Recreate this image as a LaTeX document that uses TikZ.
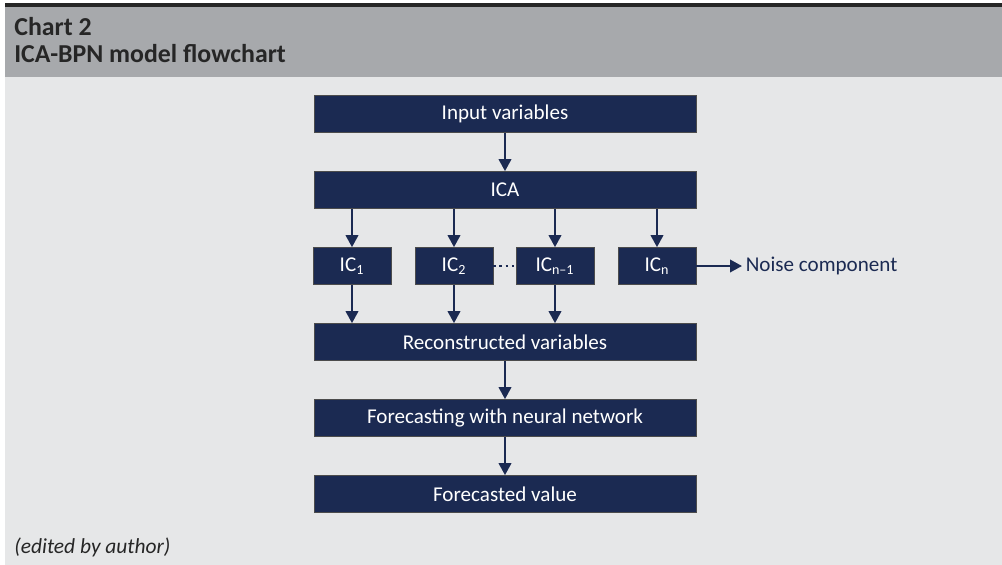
\documentclass[tikz,border=0pt]{standalone}
\usepackage{fontspec}
\setmainfont{Carlito}
\usetikzlibrary{arrows.meta}
\definecolor{navy}{HTML}{1B2A52}
\definecolor{headgray}{HTML}{A7A9AC}
\definecolor{panel}{HTML}{E6E7E8}
\begin{document}
\begin{tikzpicture}[x=0.02cm, y=-0.02cm,
    block/.style={draw=gray!60!black, fill=navy, text=white, rectangle, minimum height=0.74cm, minimum width=7.64cm, inner sep=0pt, align=center, font=\fontsize{12}{14}\selectfont},
    icbox/.style={block, minimum width=1.56cm},
    link/.style={navy, line width=1.2pt, -{Triangle[length=2.4mm, width=2.5mm]}}
  ]
    % Frame
    \fill[white] (0,0) rectangle (1002,565);
    \fill[panel] (5,77) rectangle (1002,565);
    \fill[headgray] (5,7) rectangle (1002,77);
    \fill[black!85] (5,3) rectangle (1002,7);
    \node[anchor=base west, inner sep=0pt, font=\fontsize{14.7}{17}\selectfont\bfseries, text=black!85] (title1) at (14,35) {Chart 2};
    \node[anchor=base west, inner sep=0pt, font=\fontsize{14.7}{17}\selectfont\bfseries, text=black!85] (title2) at (14,62) {ICA-BPN model flowchart};

    % Blocks
    \node[block] at (505,114)  (input)    {Input variables};
    \node[block] at (505,190)  (ica)      {ICA};
    \node[icbox] at (352,266)  (ic1)      {IC\textsubscript{1}};
    \node[icbox] at (454,266)  (ic2)      {IC\textsubscript{2}};
    \node[icbox] at (555,266)  (icm)      {IC\textsubscript{n–1}};
    \node[icbox] at (657,266)  (icn)      {IC\textsubscript{n}};
    \node[block] at (505,342)  (recon)    {Reconstructed variables};
    \node[block] at (505,418)  (forecast) {Forecasting with neural network};
    \node[block] at (505,494)  (value)    {Forecasted value};
    \node[anchor=west, inner sep=2pt, text=navy, font=\fontsize{12}{14}\selectfont] at (742,266) (noise) {Noise component};

    % Connections
    \draw[link] (input) -- (ica);
    \foreach \ic in {ic1,ic2,icm,icn}
      \draw[link] (ica.south -| \ic) -- (\ic);
    \foreach \ic in {ic1,ic2,icm}
      \draw[link] (\ic) -- (\ic |- recon.north);
    \draw[navy, line width=1.5pt, dotted] (ic2) -- (icm);
    \draw[link] (icn) -- (noise);
    \draw[link] (recon) -- (forecast);
    \draw[link] (forecast) -- (value);

    \node[anchor=base west, inner sep=0pt, font=\fontsize{12.2}{14}\selectfont\itshape, text=black!85] (note) at (14,553) {(edited by author)};
  \end{tikzpicture}
\end{document}
